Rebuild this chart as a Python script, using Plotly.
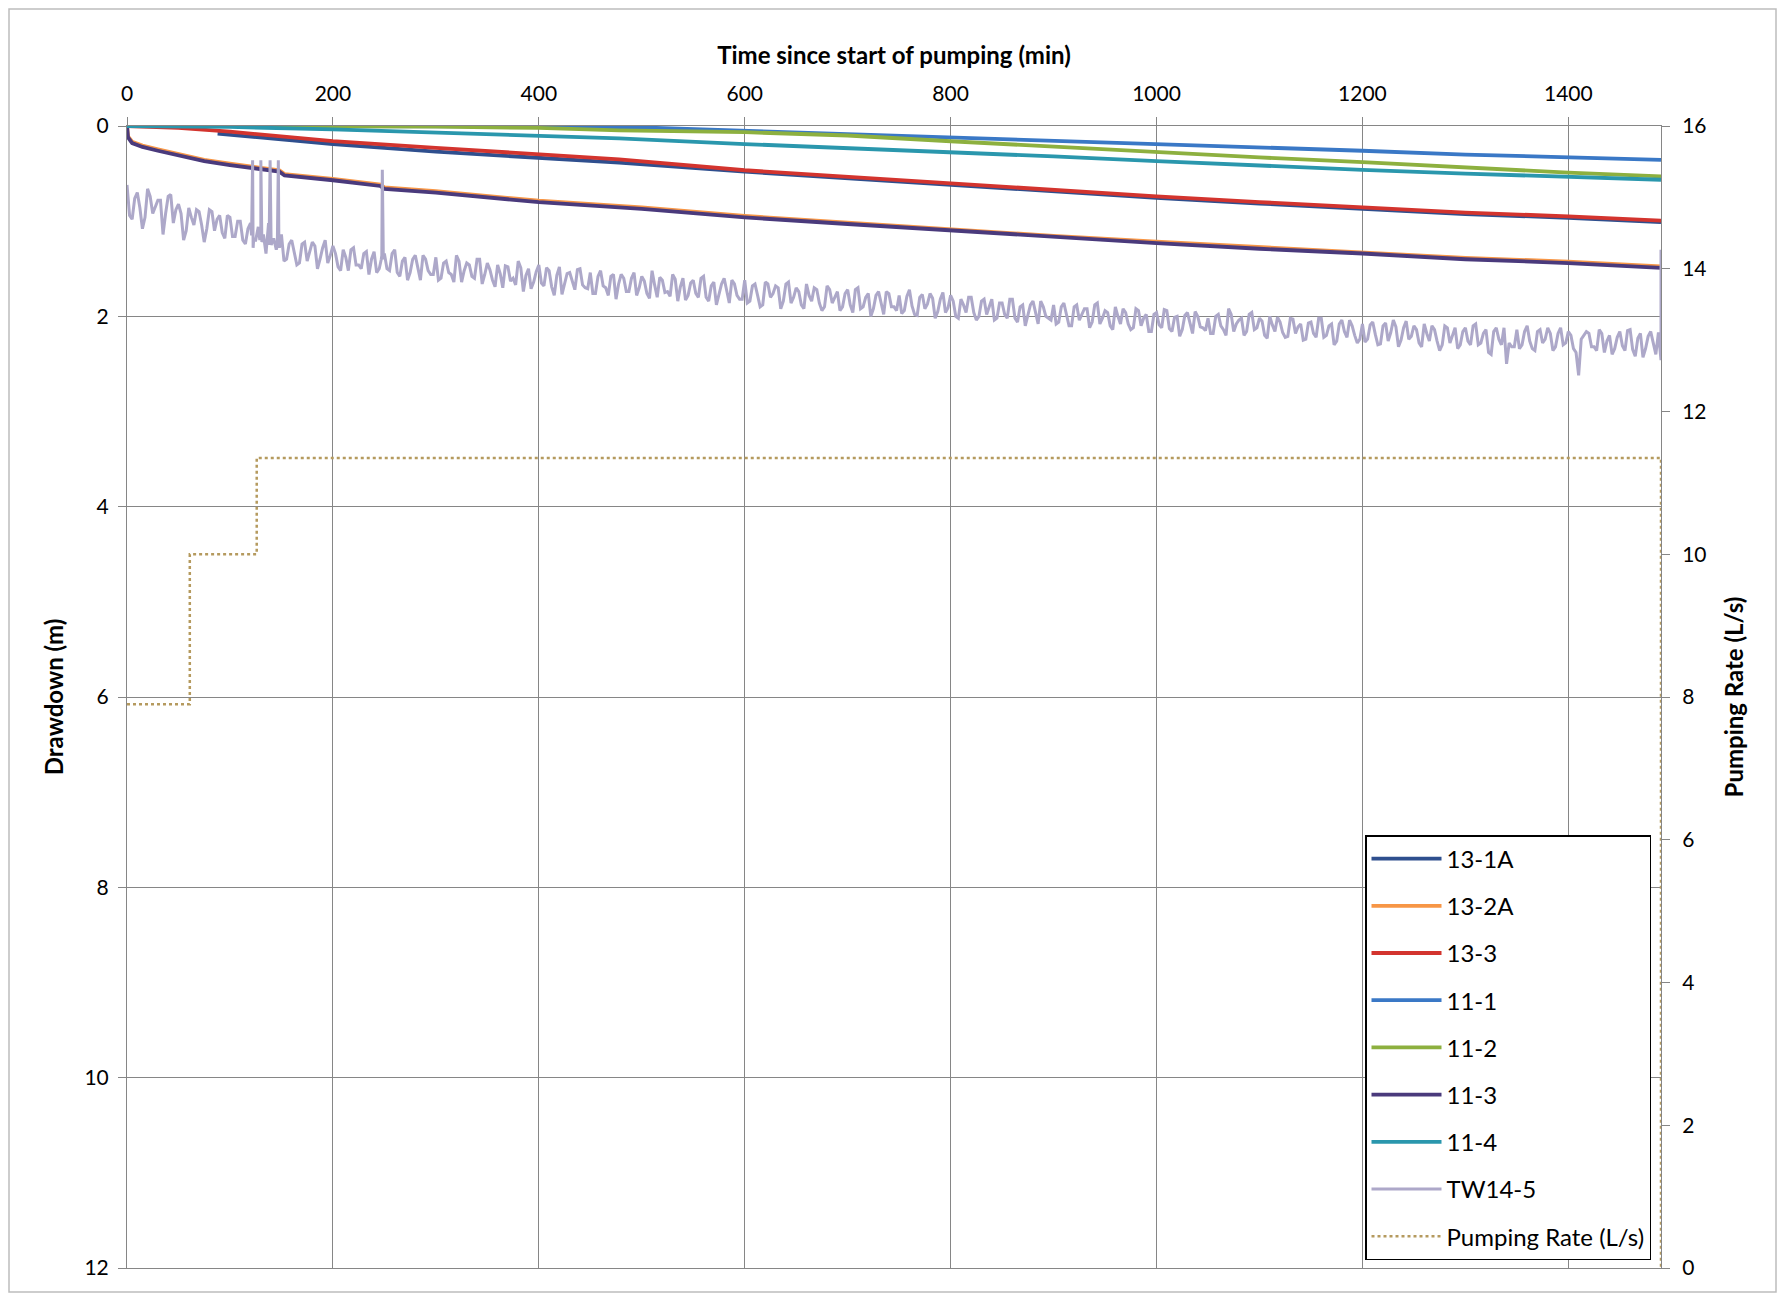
import plotly.graph_objects as go

# ---------------- data ----------------
# 13-1A
t_131a = [88, 150, 200, 300, 400, 478, 600, 700, 800, 900, 1000, 1100, 1200, 1300, 1400, 1490]
dd_131a = [0.08, 0.14, 0.19, 0.27, 0.335, 0.385, 0.48, 0.55, 0.62, 0.69, 0.755, 0.815, 0.875, 0.925, 0.965, 1.01]
# 13-2A
t_132a = [0, 1, 5, 15, 30, 50, 75, 100, 125, 148, 153, 200, 246, 250, 300, 400, 500, 600, 700, 800, 900, 1000, 1100, 1200, 1300, 1400, 1490]
dd_132a = [0.0, 0.11, 0.165, 0.205, 0.245, 0.295, 0.355, 0.395, 0.435, 0.465, 0.505, 0.555, 0.615, 0.645, 0.685, 0.785, 0.855, 0.945, 1.015, 1.085, 1.155, 1.215, 1.275, 1.325, 1.385, 1.425, 1.475]
# 13-3
t_133 = [0, 50, 100, 150, 200, 300, 400, 478, 600, 700, 800, 900, 1000, 1100, 1200, 1300, 1400, 1490]
dd_133 = [0.0, 0.02, 0.06, 0.11, 0.16, 0.23, 0.30, 0.35, 0.465, 0.535, 0.605, 0.675, 0.74, 0.80, 0.86, 0.91, 0.95, 0.995]
# 11-1
t_111 = [0, 200, 400, 500, 600, 700, 800, 900, 1000, 1100, 1200, 1300, 1400, 1490]
dd_111 = [0.0, 0.0, 0.005, 0.015, 0.05, 0.08, 0.12, 0.15, 0.18, 0.22, 0.26, 0.30, 0.33, 0.355]
# 11-2
t_112 = [0, 250, 300, 400, 478, 600, 700, 800, 900, 1000, 1100, 1200, 1300, 1400, 1490]
dd_112 = [0.0, 0.0, 0.005, 0.02, 0.045, 0.065, 0.10, 0.16, 0.22, 0.28, 0.33, 0.38, 0.44, 0.49, 0.53]
# 11-3
t_113 = [0, 1, 5, 15, 30, 50, 75, 100, 125, 148, 153, 200, 246, 250, 300, 400, 500, 600, 700, 800, 900, 1000, 1100, 1200, 1300, 1400, 1490]
dd_113 = [0.0, 0.12, 0.18, 0.22, 0.26, 0.31, 0.37, 0.41, 0.45, 0.48, 0.52, 0.57, 0.63, 0.66, 0.70, 0.80, 0.87, 0.96, 1.03, 1.10, 1.17, 1.23, 1.29, 1.34, 1.40, 1.44, 1.49]
# 11-4
t_114 = [0, 100, 200, 300, 400, 478, 600, 700, 800, 900, 1000, 1100, 1200, 1300, 1400, 1490]
dd_114 = [0.0, 0.01, 0.035, 0.07, 0.10, 0.13, 0.19, 0.23, 0.28, 0.32, 0.37, 0.42, 0.46, 0.50, 0.53, 0.565]

# TW14-5 (pumping well): readings on the 5-min marks (0 ... 1490 min)
tw_step = 5
tw_dd = [
    0.62, 0.98, 0.70, 1.08, 0.66, 0.92, 0.78, 1.14, 0.74, 1.02,
    0.82, 1.20, 0.86, 1.04, 0.90, 1.22, 0.88, 1.10, 0.94, 1.18,
    0.96, 1.16, 1.00, 1.24, 1.02, 1.20, 1.08, 1.34, 1.12, 1.30,
    1.14, 1.40, 1.20, 1.46, 1.24, 1.42, 1.22, 1.50, 1.28, 1.44,
    1.26, 1.48, 1.30, 1.52, 1.28, 1.46, 1.34, 1.56, 1.32, 1.50,
    1.34, 1.52, 1.30, 1.58, 1.38, 1.54, 1.36, 1.62, 1.40, 1.56,
    1.38, 1.60, 1.42, 1.56, 1.36, 1.64, 1.44, 1.58, 1.40, 1.66,
    1.44, 1.62, 1.46, 1.70, 1.48, 1.60, 1.42, 1.74, 1.50, 1.64,
    1.46, 1.68, 1.52, 1.78, 1.48, 1.66, 1.54, 1.72, 1.50, 1.70,
    1.54, 1.76, 1.52, 1.70, 1.58, 1.82, 1.56, 1.74, 1.60, 1.78,
    1.58, 1.76, 1.52, 1.80, 1.62, 1.74, 1.56, 1.84, 1.60, 1.78,
    1.62, 1.80, 1.58, 1.84, 1.64, 1.78, 1.60, 1.86, 1.66, 1.82,
    1.62, 1.84, 1.66, 1.90, 1.64, 1.80, 1.68, 1.92, 1.66, 1.86,
    1.70, 1.88, 1.66, 1.84, 1.72, 1.94, 1.68, 1.86, 1.74, 1.90,
    1.72, 1.96, 1.70, 1.90, 1.76, 1.92, 1.74, 1.98, 1.76, 1.90,
    1.78, 1.94, 1.72, 1.98, 1.80, 1.92, 1.76, 2.02, 1.82, 1.96,
    1.78, 2.00, 1.82, 1.96, 1.80, 2.04, 1.84, 1.98, 1.82, 2.02,
    1.86, 2.02, 1.82, 2.06, 1.88, 2.00, 1.84, 2.08, 1.90, 2.02,
    1.88, 2.06, 1.86, 2.10, 1.90, 2.04, 1.92, 2.12, 1.88, 2.08,
    1.94, 2.10, 1.90, 2.08, 1.96, 2.14, 1.92, 2.10, 1.98, 2.16,
    1.96, 2.12, 1.94, 2.16, 2.00, 2.14, 1.96, 2.18, 2.00, 2.12,
    2.02, 2.18, 1.98, 2.14, 1.92, 2.16, 2.04, 2.20, 1.98, 2.14,
    2.02, 2.20, 2.00, 2.16, 2.06, 2.22, 2.02, 2.18, 2.08, 2.24,
    2.06, 2.22, 2.02, 2.20, 2.08, 2.26, 2.04, 2.22, 2.10, 2.28,
    2.08, 2.24, 2.06, 2.30, 2.10, 2.26, 2.04, 2.32, 2.12, 2.24,
    2.10, 2.28, 2.08, 2.26, 2.14, 2.36, 2.10, 2.28, 2.12, 2.30,
    2.12, 2.30, 2.08, 2.28, 2.14, 2.40, 2.12, 2.30, 2.50, 2.32,
    2.14, 2.30, 2.10, 2.34, 2.16, 2.28, 2.12, 2.36, 2.18, 2.30,
    2.16, 2.34, 2.62, 2.20, 2.18, 2.32, 2.14, 2.38, 2.20, 2.34,
    2.16, 2.36, 2.14, 2.42, 2.18, 2.34, 2.16, 2.40, 2.46,
]
# TW14-5 readings half-way between the 5-min marks (2.5 ... 1487.5 min)
tw_dd_mid = [
    0.94, 0.76, 0.86, 0.96, 0.74, 0.84, 0.78, 0.92, 0.72, 0.88,
    0.92, 1.10, 0.96, 0.88, 1.04, 1.08, 0.90, 0.98, 1.12, 0.94,
    1.16, 1.00, 1.20, 1.08, 1.28, 1.06, 1.14, 1.02, 1.18, 1.22,
    1.42, 1.24, 1.34, 1.44, 1.22, 1.32, 1.26, 1.40, 1.20, 1.36,
    1.34, 1.52, 1.38, 1.30, 1.46, 1.50, 1.32, 1.40, 1.54, 1.36,
    1.50, 1.34, 1.54, 1.42, 1.62, 1.40, 1.48, 1.36, 1.52, 1.56,
    1.62, 1.44, 1.54, 1.64, 1.42, 1.52, 1.46, 1.60, 1.40, 1.56,
    1.51, 1.69, 1.55, 1.47, 1.63, 1.67, 1.49, 1.57, 1.71, 1.53,
    1.65, 1.49, 1.69, 1.57, 1.77, 1.55, 1.63, 1.51, 1.67, 1.71,
    1.76, 1.58, 1.68, 1.78, 1.56, 1.66, 1.60, 1.74, 1.54, 1.70,
    1.63, 1.81, 1.67, 1.59, 1.75, 1.79, 1.61, 1.69, 1.83, 1.65,
    1.76, 1.60, 1.80, 1.68, 1.88, 1.66, 1.74, 1.62, 1.78, 1.82,
    1.86, 1.68, 1.78, 1.88, 1.66, 1.76, 1.70, 1.84, 1.64, 1.80,
    1.74, 1.92, 1.78, 1.70, 1.86, 1.90, 1.72, 1.80, 1.94, 1.76,
    1.88, 1.72, 1.92, 1.80, 2.00, 1.78, 1.86, 1.74, 1.90, 1.94,
    1.97, 1.79, 1.89, 1.99, 1.77, 1.87, 1.81, 1.95, 1.75, 1.91,
    1.84, 2.02, 1.88, 1.80, 1.96, 2.00, 1.82, 1.90, 2.04, 1.86,
    1.98, 1.82, 2.02, 1.90, 2.10, 1.88, 1.96, 1.84, 2.00, 2.04,
    2.08, 1.90, 2.00, 2.10, 1.88, 1.98, 1.92, 2.06, 1.86, 2.02,
    1.96, 2.14, 2.00, 1.92, 2.08, 2.12, 1.94, 2.02, 2.16, 1.98,
    2.09, 1.93, 2.13, 2.01, 2.21, 1.99, 2.07, 1.95, 2.11, 2.15,
    2.18, 2.00, 2.10, 2.20, 1.98, 2.08, 2.02, 2.16, 1.96, 2.12,
    2.05, 2.23, 2.09, 2.01, 2.17, 2.21, 2.03, 2.11, 2.25, 2.07,
    2.18, 2.02, 2.22, 2.10, 2.30, 2.08, 2.16, 2.04, 2.20, 2.24,
    2.27, 2.09, 2.19, 2.29, 2.07, 2.17, 2.11, 2.25, 2.05, 2.21,
    2.14, 2.32, 2.18, 2.10, 2.26, 2.30, 2.12, 2.20, 2.34, 2.16,
    2.26, 2.10, 2.30, 2.18, 2.38, 2.16, 2.24, 2.12, 2.28, 2.32,
    2.34, 2.16, 2.26, 2.36, 2.14, 2.24, 2.18, 2.32, 2.12, 2.28,
    2.20, 2.38, 2.24, 2.16, 2.32, 2.36, 2.18, 2.26, 2.40, 2.22,
    2.31, 2.15, 2.35, 2.23, 2.43, 2.21, 2.29, 2.17,
]
# brief spikes in the TW14-5 record
tw_spike_t = [121, 122, 123, 129, 130, 131, 138, 139, 140, 146, 147, 148, 247, 248, 249]
tw_spike_dd = [1.15, 0.36, 1.20, 1.20, 0.36, 1.22, 1.25, 0.36, 1.25, 1.26, 0.36, 1.28, 1.40, 0.46, 1.40]
# recovery after pump stop
tw_end_t = [1490]
tw_end_dd = [1.30]

# Pumping rate (L/s)
q_t = [0, 61, 61, 126, 126, 1490, 1490]
q_rate = [7.9, 7.9, 10.0, 10.0, 11.35, 11.35, 0.0]

# axis ticks
x_ticks = [0, 200, 400, 600, 800, 1000, 1200, 1400]
y_ticks = [0, 2, 4, 6, 8, 10, 12]
y2_ticks = [0, 2, 4, 6, 8, 10, 12, 14, 16]

# ---------------- build TW14-5 series ----------------
tw_base_t = [i * tw_step for i in range(len(tw_dd))]
tw_mid_t = [i * tw_step + tw_step / 2 for i in range(len(tw_dd_mid))]
pairs = sorted(
    list(zip(tw_base_t, tw_dd)) + list(zip(tw_mid_t, tw_dd_mid)) + list(zip(tw_spike_t, tw_spike_dd)),
    key=lambda p: p[0],
)
tw_t = [p[0] for p in pairs] + tw_end_t
tw_v = [p[1] for p in pairs] + tw_end_dd

FONT = "Lato, 'Open Sans', sans-serif"
GRID = "#868686"

series = [
    ("13-1A", t_131a, dd_131a, "#2F4F8E", 3.8),
    ("13-2A", t_132a, dd_132a, "#F79646", 3.8),
    ("13-3", t_133, dd_133, "#D3342E", 3.8),
    ("11-1", t_111, dd_111, "#3A78C6", 3.8),
    ("11-2", t_112, dd_112, "#8DB03F", 3.8),
    ("11-3", t_113, dd_113, "#4A3A7C", 3.8),
    ("11-4", t_114, dd_114, "#2A97AD", 3.8),
    ("TW14-5", tw_t, tw_v, "#ADA8C9", 3.0),
]

fig = go.Figure()
for name, tx, ty, col, lw in series:
    fig.add_trace(go.Scatter(
        x=tx, y=ty, mode="lines", name=name, legendgroup=name,
        line=dict(color=col, width=lw), yaxis="y",
    ))

fig.add_trace(go.Scatter(
    x=q_t, y=q_rate, mode="lines", name="Pumping Rate (L/s)", legendgroup="q",
    line=dict(color="#B59A5E", width=2.5, dash="dot"), yaxis="y2",
))

L, R, T, B = 127, 1661, 126, 1268
W, H = 1783, 1295

def px_x(px):
    return (px - L) / (R - L)

def px_y(py):
    return (B - py) / (B - T)

fig.update_layout(
    width=W, height=H,
    margin=dict(l=L, r=W - R, t=T, b=H - B),
    paper_bgcolor="white", plot_bgcolor="white",
    font=dict(family=FONT, size=21, color="black"),
    showlegend=True,
    legend=dict(
        x=px_x(1651), xanchor="right", y=px_y(1260), yanchor="bottom",
        bordercolor="black", borderwidth=1.5, bgcolor="white",
        font=dict(size=24), traceorder="grouped", tracegroupgap=13,
        itemwidth=70,
    ),
    xaxis=dict(
        side="top", range=[0, 1490], tickvals=x_ticks,
        showgrid=True, gridcolor=GRID, gridwidth=1,
        ticks="outside", ticklen=8, tickcolor=GRID, ticklabelstandoff=8,
        showline=True, linecolor=GRID, linewidth=1, mirror=True,
        zeroline=False,
        title=dict(text="<b>Time since start of pumping (min)</b>", standoff=8,
                   font=dict(size=24)),
        tickfont=dict(size=21),
    ),
    yaxis=dict(
        range=[12, 0], tickvals=y_ticks,
        showgrid=True, gridcolor=GRID, gridwidth=1,
        ticks="outside", ticklen=8, tickcolor=GRID, ticklabelstandoff=5,
        showline=True, linecolor=GRID, linewidth=1, mirror=True,
        zeroline=False,
        title=dict(text="<b>Drawdown (m)</b>", standoff=14, font=dict(size=24)),
        tickfont=dict(size=21),
    ),
    yaxis2=dict(
        overlaying="y", side="right", range=[0, 16], tickvals=y2_ticks,
        showgrid=False, zeroline=False,
        ticks="outside", ticklen=8, tickcolor=GRID, ticklabelstandoff=8,
        showline=True, linecolor=GRID, linewidth=1,
        title=dict(text="<b>Pumping Rate (L/s)</b>", standoff=20, font=dict(size=24)),
        tickfont=dict(size=21),
    ),
    shapes=[dict(
        type="rect", xref="paper", yref="paper",
        x0=px_x(9), x1=px_x(1776), y0=px_y(1292), y1=px_y(9),
        line=dict(color="#BDBDBD", width=1.5), fillcolor="rgba(0,0,0,0)", layer="below",
    )],
)

fig.write_html("out.html")
